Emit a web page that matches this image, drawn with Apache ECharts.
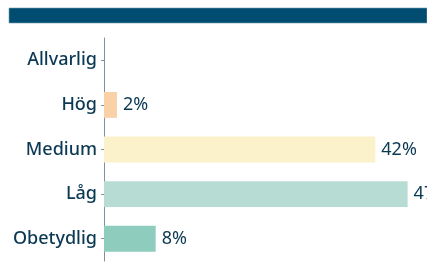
<!DOCTYPE html>
<html>
<head>
<meta charset="utf-8">
<script src="https://cdn.jsdelivr.net/npm/echarts@6/dist/echarts.min.js"></script>
<style>
  html, body { margin: 0; padding: 0; background: #fff; }
  #chart { width: 427px; height: 267px; }
</style>
</head>
<body>
<div id="chart"></div>
<script>
const categories = ['Allvarlig', 'Hög', 'Medium', 'Låg', 'Obetydlig'];
const values = [0, 2, 42, 47, 8];
const colors = ['#f6a6a0', '#fad0a6', '#fbf1ca', '#b6dcd3', '#8ecdbd'];

const chart = echarts.init(document.getElementById('chart'));
chart.setOption({
  animation: false,
  textStyle: { fontFamily: 'Noto Sans' },
  graphic: [{
    type: 'rect',
    shape: { x: 9, y: 8, width: 418, height: 15 },
    style: { fill: '#004d71', stroke: '#6f9db4', lineWidth: 0.6 }
  }],
  grid: { left: 104, right: 0, top: 38, bottom: 6, containLabel: false },
  xAxis: {
    type: 'value',
    min: 0,
    max: 50,
    show: false
  },
  yAxis: {
    type: 'category',
    inverse: true,
    data: categories,
    axisLine: { lineStyle: { color: '#7f919e', width: 1 } },
    axisTick: { show: true, alignWithLabel: true, length: 3, lineStyle: { color: '#7f919e' } },
    axisLabel: { color: '#0b3954', fontSize: 18, fontWeight: 500, margin: 7 }
  },
  series: [{
    type: 'bar',
    data: values.map((v, i) => ({ value: v, itemStyle: { color: colors[i] } })),
    barCategoryGap: '42%',
    label: {
      show: true,
      position: 'right',
      distance: 6,
      color: '#0b3954',
      fontSize: 18,
      formatter: (p) => (p.value > 0 ? p.value + '%' : '')
    }
  }]
});
</script>
</body>
</html>
